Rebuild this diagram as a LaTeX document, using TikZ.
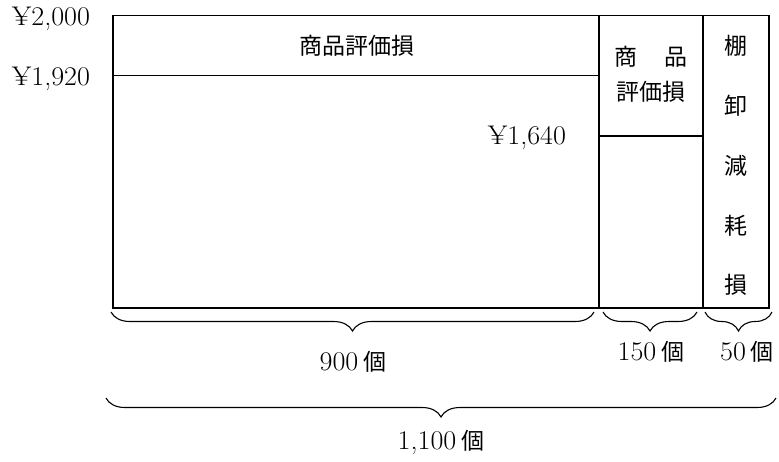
\documentclass[tikz,border=0pt]{standalone}
\usepackage{fontspec}
\usepackage{graphicx}
\usetikzlibrary{decorations.pathreplacing}
\newfontfamily\jpf{Noto Sans CJK JP}
\newcommand\nm[1]{\scalebox{1.04}[1]{\fontsize{27}{31}\selectfont #1}}
\newcommand\jp[1]{{\jpf\fontsize{23}{27}\selectfont #1}}
\begin{document}
\begin{tikzpicture}[x=1pt,y=-1pt,
  frame/.style={line width=1.8pt},
  brc/.style={decorate,decoration={brace,mirror,amplitude=19pt},line width=1.1pt},
  lbl/.style={inner sep=0pt,anchor=center}]
\useasboundingbox (0,0) rectangle (779,461);
% frame coordinates
\coordinate (TL) at (113,15.5);
\coordinate (BR) at (769,308);
\coordinate (m1t) at (599,15.5);
\coordinate (m1b) at (599,308);
\coordinate (m2t) at (703,15.5);
\coordinate (m2b) at (703,308);
\coordinate (h1l) at (113,75.5);
\coordinate (h1r) at (599,75.5);
\coordinate (h2l) at (599,136);
\coordinate (h2r) at (703,136);
\draw[frame] (TL) rectangle (BR);
\draw[frame] (m1t) -- (m1b);
\draw[frame] (m2t) -- (m2b);
\draw[frame] (h1l) -- (h1r);
\draw[frame] (h2l) -- (h2r);
% braces
\coordinate (b1a) at (111,312);
\coordinate (b1b) at (594,312);
\coordinate (b2a) at (603,312);
\coordinate (b2b) at (697,312);
\coordinate (b3a) at (705,312);
\coordinate (b3b) at (772,312);
\coordinate (b4a) at (106,398);
\coordinate (b4b) at (776,398);
\draw[brc] (b1a) -- (b1b);
\draw[brc] (b2a) -- (b2b);
\draw[brc] (b3a) -- (b3b);
\draw[brc] (b4a) -- (b4b);
% labels
\node[lbl] (p2000) at (51,19) {\nm{¥2,000}};
\node[lbl] (p1920) at (51,79) {\nm{¥1,920}};
\node[lbl] (p1640) at (527,138) {\nm{¥1,640}};
\node[lbl] (hyoka1) at (357,46) {\jp{商品評価損}};
\node[lbl] (hyoka2a) at (651,57) {\jp{商\hspace{1.2em}品}};
\node[lbl] (hyoka2b) at (651,92) {\jp{評価損}};
\node[lbl] (g1) at (736,46) {\jp{棚}};
\node[lbl] (g2) at (736,106) {\jp{卸}};
\node[lbl] (g3) at (736,166) {\jp{減}};
\node[lbl] (g4) at (736,226) {\jp{耗}};
\node[lbl] (g5) at (736,285) {\jp{損}};
\node[lbl] (q900) at (353,362) {\nm{900}\hspace{5pt}\jp{個}};
\node[lbl] (q150) at (651,352) {\nm{150}\hspace{5pt}\jp{個}};
\node[lbl] (q50) at (747,352) {\nm{50}\hspace{5pt}\jp{個}};
\node[lbl] (q1100) at (441,443) {\nm{1,100}\hspace{5pt}\jp{個}};
\end{tikzpicture}
\end{document}
